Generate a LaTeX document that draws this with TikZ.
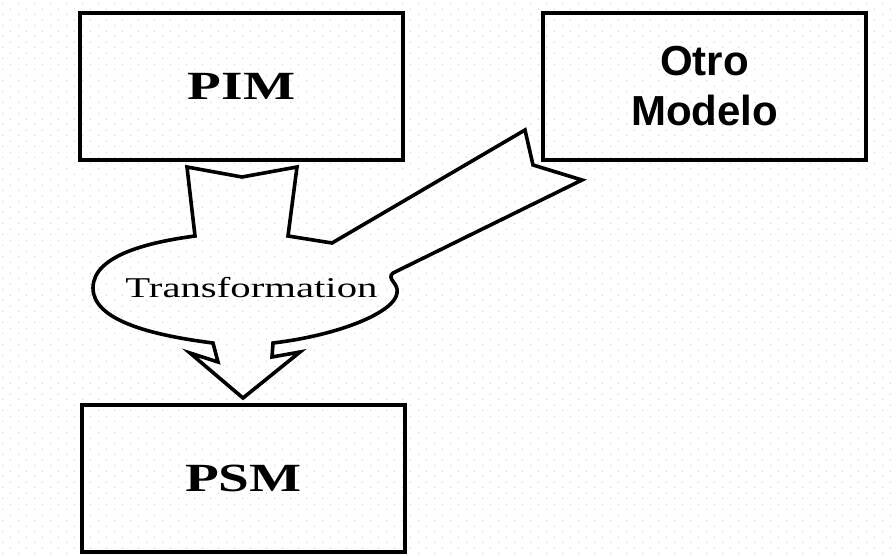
\documentclass[tikz,border=0pt]{standalone}
\usepackage{fontspec}
\usepackage{graphicx}
\setmainfont{Liberation Serif}
\newfontfamily\arialfont{Liberation Sans}
\usetikzlibrary{patterns}
\pgfdeclarepatternformonly{bgdots}{\pgfqpoint{0pt}{0pt}}{\pgfqpoint{16pt}{11pt}}{\pgfqpoint{16pt}{11pt}}{%
  \pgfpathcircle{\pgfqpoint{4pt}{3pt}}{0.7pt}%
  \pgfpathcircle{\pgfqpoint{12pt}{8.5pt}}{0.7pt}%
  \pgfusepath{fill}}
\begin{document}
\begin{tikzpicture}[x=1pt,y=-1pt,
  modelbox/.style={draw=black, line width=4pt, minimum width=323pt, minimum height=147pt, inner sep=0pt},
  flowshape/.style={draw=black, line width=3.6pt, line join=miter},
  serifbig/.style={font=\fontsize{40}{48}\selectfont\bfseries},
  sansbig/.style={font=\arialfont\fontsize{42}{50}\selectfont\bfseries, align=center}]
\useasboundingbox (0,0) rectangle (896,555);
\fill[white] (0,0) rectangle (896,555);
\fill[pattern=bgdots, pattern color=black!20] (0,0) rectangle (896,555);

\node[modelbox, serifbig] (pim) at (241.5,86.5) {\scalebox{1.38}[1]{PIM}};
\node[modelbox, sansbig] (otro) at (704.5,86.5) {Otro\\Modelo};
\node[modelbox, serifbig] (psm) at (243.5,478.5) {\scalebox{1.38}[1]{PSM}};

\draw[flowshape]
  (187,167) -- (242,177) -- (297,167) -- (288,236) -- (332,243)
  -- (525,130) -- (533,165) -- (582,180) -- (393,273)
  .. controls (386,279) and (399,283) .. (397,293)
  .. controls (395,312) and (340,335) .. (273,343)
  -- (272,357) -- (300,352) -- (243,398) -- (190,353) -- (218,362) -- (213,343)
  .. controls (150,335) and (93,320) .. (93,288)
  .. controls (93,255) and (150,242) .. (195,236) -- cycle;

\node[anchor=base, inner sep=0pt, font=\fontsize{28.7}{34}\selectfont] (trans) at (251.5,297) {\scalebox{1.42}[1]{Transformation}};
\end{tikzpicture}
\end{document}
